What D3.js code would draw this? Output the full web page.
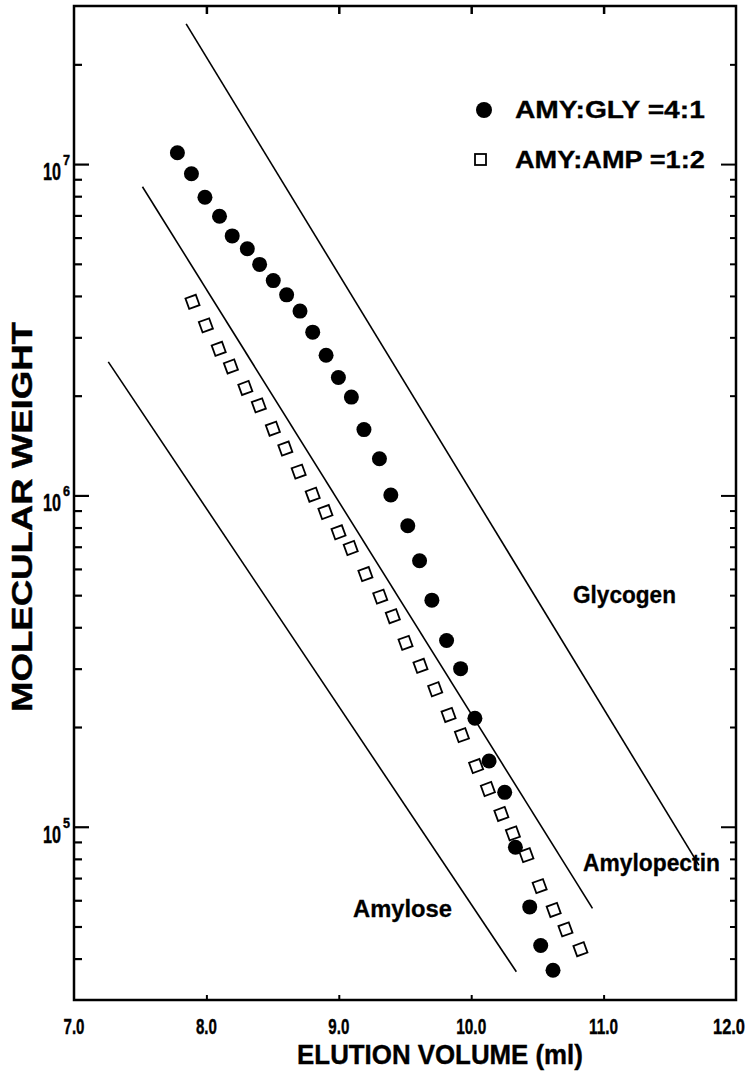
<!DOCTYPE html>
<html>
<head>
<meta charset="utf-8">
<script src="https://cdn.jsdelivr.net/npm/d3@7"></script>
<style>
  html, body { margin: 0; padding: 0; background: #fff; }
  svg { display: block; }
  .cond { font-family: "Liberation Sans", Arial, sans-serif; font-weight: bold; fill: #000; stroke: #000; stroke-width: 0.4; }
  .bold { font-family: "Liberation Sans", Arial, sans-serif; font-weight: bold; fill: #000; stroke: #000; stroke-width: 0.3; }
</style>
</head>
<body>
<svg id="chart" width="749" height="1075"></svg>
<script>
// Elution profile, amylose : glycogen = 4:1 (filled circles)
const glyVolume = [7.781, 7.887, 7.989, 8.099, 8.195, 8.309, 8.402, 8.505, 8.606, 8.707,
                   8.803, 8.904, 8.997, 9.095, 9.190, 9.307, 9.393, 9.521, 9.610, 9.703,
                   9.814, 9.920, 10.028, 10.135, 10.253, 10.334, 10.442, 10.525, 10.618];
const glyMW = [1.082e7, 9.35e6, 7.94e6, 6.96e6, 6.07e6, 5.55e6, 4.98e6, 4.45e6, 4.03e6, 3.60e6,
               3.11e6, 2.65e6, 2.27e6, 1.98e6, 1.58e6, 1.29e6, 1.003e6, 8.10e5, 6.35e5, 4.83e5,
               3.65e5, 3.00e5, 2.125e5, 1.58e5, 1.27e5, 8.67e4, 5.73e4, 4.38e4, 3.69e4];

// Elution profile, amylose : amylopectin = 1:2 (open squares)
const ampVolume = [7.895, 7.996, 8.093, 8.185, 8.294, 8.396, 8.502, 8.596, 8.697, 8.803,
                   8.899, 8.998, 9.090, 9.201, 9.313, 9.408, 9.504, 9.617, 9.728, 9.829,
                   9.930, 10.037, 10.126, 10.228, 10.315, 10.417, 10.517, 10.623, 10.712, 10.825];
const ampMW = [3.84e6, 3.26e6, 2.77e6, 2.45e6, 2.11e6, 1.87e6, 1.59e6, 1.385e6, 1.18e6, 1.005e6,
               8.91e5, 7.74e5, 6.94e5, 5.79e5, 4.95e5, 4.32e5, 3.59e5, 3.06e5, 2.60e5, 2.175e5,
               1.89e5, 1.525e5, 1.30e5, 1.093e5, 9.55e4, 8.21e4, 6.62e4, 5.61e4, 4.90e4, 4.27e4];

// Calibration lines for the pure polysaccharides: [volume, MW] at each end
const lineNames = ["Glycogen", "Amylopectin", "Amylose"];
const lineStart = [[7.847, 2.65e7], [7.517, 8.54e6], [7.259, 2.53e6]];
const lineEnd   = [[11.720, 7.66e4], [10.916, 5.67e4], [10.341, 3.65e4]];

// Axes
const xTicks = [7, 8, 9, 10, 11, 12];
const xTickLabels = ["7.0", "8.0", "9.0", "10.0", "11.0", "12.0"];
const yMajor = [1e5, 1e6, 1e7];
const yMajorExp = ["5", "6", "7"];
const legendLabels = ["AMY:GLY =4:1", "AMY:AMP =1:2"];

const L = 74, R = 736, T = 6, B = 1000;
const svg = d3.select("#chart");
svg.append("rect").attr("width", 749).attr("height", 1075).attr("fill", "#fff");

const x = d3.scaleLinear().domain([7, 12]).range([L, R]);
const y = d3.scaleLog().domain([3e4, 3e7]).range([B, T]);

// Text narrowed horizontally to a given width (condensed lettering).
// anchor: "start" | "middle" | "end"; rot: optional rotation in degrees.
function condText(parent, cls, str, px, py, size, width, anchor, rot) {
  const t = parent.append("text").attr("class", cls)
    .attr("font-size", size).attr("text-anchor", anchor || "start").text(str);
  const w = t.node().getComputedTextLength();
  const k = width / w;
  t.attr("transform", `translate(${px},${py})${rot ? ` rotate(${rot})` : ""} scale(${k},1)`);
  return t;
}

// minor ticks 2..9 of every decade inside the domain
const yMinor = [];
for (let e = 4; e <= 7; e++) {
  for (let m = 2; m <= 9; m++) {
    const v = m * Math.pow(10, e);
    if (v > 3e4 && v < 3e7) yMinor.push(v);
  }
}

function tickAxis(axis, tx, ty, width) {
  const g = svg.append("g").attr("transform", `translate(${tx},${ty})`).call(axis);
  g.select(".domain").remove();
  g.selectAll(".tick text").remove();
  g.selectAll(".tick line").attr("stroke", "#000").attr("stroke-width", width);
  return g;
}

// left and right tick marks point into the frame
tickAxis(d3.axisLeft(y).tickValues(yMinor).tickSize(-8), L, 0, 2.2);
tickAxis(d3.axisLeft(y).tickValues(yMajor).tickSize(-15), L, 0, 2.2);
tickAxis(d3.axisRight(y).tickValues(yMinor).tickSize(-6), R, 0, 2);
tickAxis(d3.axisRight(y).tickValues(yMajor).tickSize(-15), R, 0, 2);
tickAxis(d3.axisBottom(x).tickValues([8, 9, 10, 11]).tickSize(-5), 0, B, 2);
tickAxis(d3.axisTop(x).tickValues([8, 9, 10, 11]).tickSize(-8), 0, T, 2.5);

// frame
svg.append("rect")
  .attr("x", L).attr("y", T).attr("width", R - L).attr("height", B - T)
  .attr("fill", "none").attr("stroke", "#000").attr("stroke-width", 2.5);

// x tick labels
const xLabW = { "7.0": 21, "8.0": 21, "9.0": 21, "10.0": 30, "11.0": 29, "12.0": 32 };
const xl = svg.append("g");
xTicks.forEach((d, i) => {
  const s = xTickLabels[i];
  condText(xl, "cond", s, Math.min(x(d), 729), B + 34, 22, xLabW[s], "middle");
});

// y tick labels: 10 with superscript exponent
const yl = svg.append("g");
yMajor.forEach((d, i) => {
  condText(yl, "cond", "10", 61, y(d) + 16, 23, 18, "end");
  condText(yl, "cond", yMajorExp[i], 63, y(d) + 1, 15, 7, "start");
});

// axis titles
condText(svg, "cond", "ELUTION VOLUME (ml)", 440, 1064, 28, 286, "middle");
condText(svg, "cond", "MOLECULAR WEIGHT", 32, 517, 29, 390, "middle", -90);

// calibration lines
svg.append("g").selectAll("line").data(lineNames).join("line")
  .attr("x1", (d, i) => x(lineStart[i][0])).attr("y1", (d, i) => y(lineStart[i][1]))
  .attr("x2", (d, i) => x(lineEnd[i][0])).attr("y2", (d, i) => y(lineEnd[i][1]))
  .attr("stroke", "#000").attr("stroke-width", 1.6);

// line labels
const lineLabelPos = [[573, 603, 103], [583, 871, 137], [353, 917, 99]];
const ll = svg.append("g");
lineNames.forEach((name, i) => {
  condText(ll, "bold", name, lineLabelPos[i][0], lineLabelPos[i][1], 24, lineLabelPos[i][2], "start");
});

// data: filled circles
svg.append("g").selectAll("circle").data(glyVolume).join("circle")
  .attr("cx", (d) => x(d)).attr("cy", (d, i) => y(glyMW[i]))
  .attr("r", 7.5).attr("fill", "#000");

// data: open squares
const sq = 11;
svg.append("g").selectAll("rect").data(ampVolume).join("rect")
  .attr("x", -sq / 2).attr("y", -sq / 2).attr("width", sq).attr("height", sq)
  .attr("transform", (d, i) => `translate(${x(d)},${y(ampMW[i])}) rotate(-20)`)
  .attr("fill", "#fff").attr("stroke", "#000").attr("stroke-width", 1.8);

// legend
const lg = svg.append("g");
lg.append("circle").attr("cx", 484).attr("cy", 110).attr("r", 8).attr("fill", "#000");
lg.append("rect").attr("x", 475).attr("y", 154).attr("width", 11).attr("height", 11)
  .attr("fill", "#fff").attr("stroke", "#000").attr("stroke-width", 1.8);
legendLabels.forEach((s, i) => {
  condText(lg, "bold", s, 515, 118 + i * 50, 23, 190, "start");
});
</script>
</body>
</html>
